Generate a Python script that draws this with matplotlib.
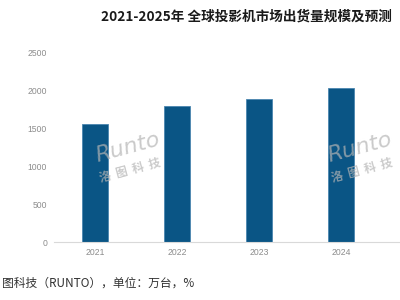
import matplotlib
matplotlib.use('Agg')
import matplotlib.pyplot as plt

plt.rcParams['font.family'] = ['Noto Sans CJK SC', 'DejaVu Sans']

# data (2025 bar is cut off in the reference)
years = ['2021', '2022', '2023', '2024']
shipments = [1555, 1790, 1885, 2030]
yticks = [0, 500, 1000, 1500, 2000, 2500]

bar_color = '#0a5585'
tick_color = '#8c8c8c'

fig = plt.figure(figsize=(4, 3), dpi=100)
ax = fig.add_axes([0.135, 0.1933, 0.865, 0.6333])

ax.bar(range(len(years)), shipments, width=0.31, color=bar_color,
       edgecolor='#4a86b0', linewidth=0.6, zorder=2)

ax.set_xlim(-0.5, 3.72)
ax.set_ylim(0, 2500)
ax.set_yticks(yticks)
ax.set_xticks(range(len(years)))
ax.set_xticklabels(years)
ax.tick_params(axis='both', length=0, labelsize=6.2, labelcolor=tick_color)
ax.tick_params(axis='y', pad=5)
ax.tick_params(axis='x', pad=4)
for lab in ax.get_xticklabels() + ax.get_yticklabels():
    lab.set_family(['Liberation Sans', 'DejaVu Sans'])

for s in ['left', 'right', 'top']:
    ax.spines[s].set_visible(False)
ax.spines['bottom'].set_color('#d9d9d9')
ax.spines['bottom'].set_linewidth(0.8)

# watermark
for wx in [0.32, 0.90]:
    fig.text(wx, 0.507, 'Runto', fontsize=16, color='#b4b4b4', alpha=0.7,
             rotation=15, ha='center', va='center', style='italic',
             family=['DejaVu Sans'], zorder=5)
    fig.text(wx + 0.005, 0.433, '洛  图  科  技', fontsize=8.5, color='#b4b4b4',
             alpha=0.7, rotation=15, ha='center', va='center',
             fontweight='bold', zorder=5)

fig.text(0.98, 0.945, '2021-2025年 全球投影机市场出货量规模及预测',
         fontsize=9.8, fontweight='bold', ha='right', va='center', color='#1a1a1a')
fig.text(0.005, 0.055, '图科技（RUNTO），单位：万台，%',
         fontsize=8.5, ha='left', va='center', color='#333333')

fig.savefig('out.png', dpi=100)
plt.close(fig)
